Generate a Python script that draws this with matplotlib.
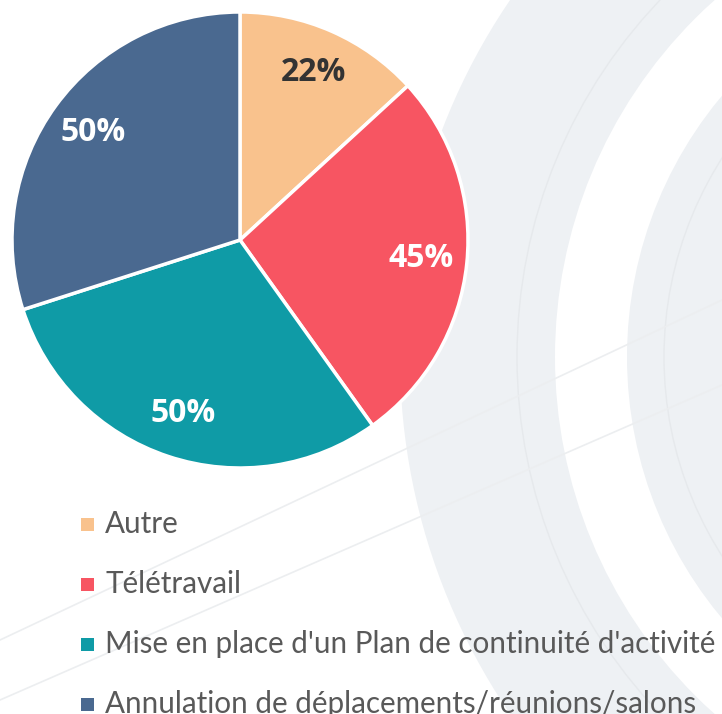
import matplotlib
matplotlib.use("Agg")
import matplotlib.pyplot as plt
from matplotlib.patches import Circle, Rectangle

categories = ["Autre", "Télétravail", "Mise en place d'un Plan de continuité d'activité",
              "Annulation de déplacements/réunions/salons"]
values = [22, 45, 50, 50]
colors = ["#F9C28D", "#F75562", "#0F9BA6", "#4A6990"]
label_colors = ["#333333", "white", "white", "white"]

W, H = 722, 714
fig = plt.figure(figsize=(W / 100, H / 100), dpi=100)
ax = fig.add_axes([0, 0, 1, 1])
ax.set_axis_off()

# decorative background rings
cx, cy = 1034, H - 357
ax.add_patch(Circle((cx, cy), 634, color="#EEF1F4", zorder=0, lw=0))
ax.add_patch(Circle((cx, cy), 479, color="white", zorder=0, lw=0))
ax.add_patch(Circle((cx, cy), 407, color="#EEF1F4", zorder=0, lw=0))
for r in (517, 370):
    ax.add_patch(Circle((cx, cy), r, fill=False, ec="#E6E9EC", lw=1, zorder=0.5))
ax.plot([0, 722], [H - 640, H - 300], color="#ECEEF0", lw=1.2, zorder=0.6)
ax.plot([0, 722], [H - 700, H - 385], color="#ECEEF0", lw=1.2, zorder=0.6)

total = sum(values)
wedges, texts, autotexts = ax.pie(
    values, colors=colors, startangle=90, counterclock=False,
    center=(240, H - 240), radius=228,
    wedgeprops=dict(edgecolor="white", linewidth=2.5),
    autopct=lambda p: f"{round(p * total / 100):.0f}%", pctdistance=0.8,
    textprops=dict(family="Open Sans", fontsize=23, fontweight="bold"),
)
for t, c in zip(autotexts, label_colors):
    t.set_color(c)

# legend
for i, (cat, col) in enumerate(zip(categories, colors)):
    yc = H - (524 + 60 * i)
    ax.add_patch(Rectangle((81, yc - 6.5), 13, 13, color=col, lw=0, zorder=3))
    ax.text(105, H - (533 + 60 * i), cat, family="Lato", fontsize=21.3,
            color="#595959", va="baseline", ha="left", zorder=3)

ax.set_xlim(0, W)
ax.set_ylim(0, H)
ax.set_aspect("auto")
fig.savefig("out.png", dpi=100)
